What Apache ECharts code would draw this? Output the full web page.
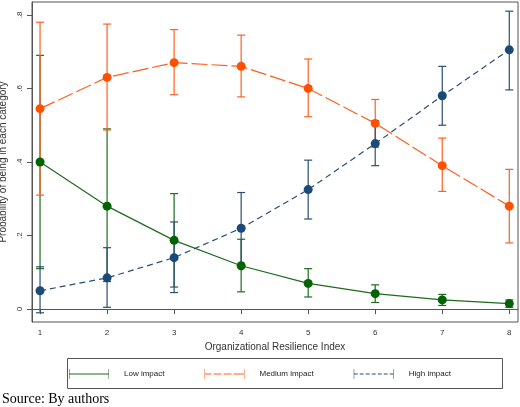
<!DOCTYPE html>
<html><head><meta charset="utf-8">
<script src="https://cdn.jsdelivr.net/npm/echarts@6/dist/echarts.min.js"></script>
<style>body{margin:0;background:#fff}#main{width:520px;height:407px}</style>
</head><body><div id="main"></div>
<script>
var xs=[1,2,3,4,5,6,7,8];
var lowVal=[0.40,0.28,0.187,0.118,0.07,0.042,0.025,0.015];
var lowLo=[0.11,0.075,0.06,0.047,0.033,0.018,0.01,0.005];
var lowHi=[0.69,0.49,0.314,0.19,0.11,0.066,0.04,0.025];
var medVal=[0.545,0.63,0.67,0.66,0.60,0.505,0.39,0.28];
var medLo=[0.31,0.487,0.583,0.577,0.523,0.44,0.32,0.18];
var medHi=[0.78,0.775,0.76,0.745,0.68,0.57,0.465,0.38];
var highVal=[0.05,0.085,0.14,0.22,0.325,0.45,0.58,0.705];
var highLo=[-0.01,0.005,0.045,0.12,0.245,0.39,0.50,0.596];
var highHi=[0.115,0.167,0.237,0.317,0.405,0.512,0.66,0.81];
var yTicks=[0,0.2,0.4,0.6,0.8];

var cLow='#1e6b1e',cMed='#ff5f1f',cHigh='#2a4e74';
var dLow='#006400',dMed='#ff5000',dHigh='#1a4a7a';

function pts(v){return xs.map(function(x,i){return [x,v[i]];});}
function bars(lo,hi){return xs.map(function(x,i){return [x,lo[i],hi[i]];});}
function errSeries(name,lo,hi,color){
  return {type:'custom',name:name,data:bars(lo,hi),z:1,
    renderItem:function(p,api){
      var a=api.coord([api.value(0),api.value(1)]),b=api.coord([api.value(0),api.value(2)]);
      var s={stroke:color,lineWidth:1.2};
      return {type:'group',children:[
        {type:'line',shape:{x1:a[0],y1:a[1],x2:b[0],y2:b[1]},style:s},
        {type:'line',shape:{x1:a[0]-4,y1:a[1],x2:a[0]+4,y2:a[1]},style:s},
        {type:'line',shape:{x1:b[0]-4,y1:b[1],x2:b[0]+4,y2:b[1]},style:s}]};
    }};
}
function lineSeries(name,v,color,dot,dash){
  return {type:'line',name:name,data:pts(v),symbol:'circle',symbolSize:9,z:3,
    itemStyle:{color:dot},lineStyle:{color:color,width:1.2,type:dash}};
}
var ch=echarts.init(document.getElementById('main'));
ch.setOption({
  animation:false,
  grid:{left:32,right:2,top:2,bottom:85,show:true,borderColor:'#555',borderWidth:1,outerBoundsMode:'none',containLabel:false},
  xAxis:{type:'value',min:0.88,max:8.13,
    name:'Organizational Resilience Index',nameLocation:'middle',nameGap:19,
    nameTextStyle:{fontFamily:'Liberation Sans',fontSize:10,color:'#333'},
    axisLine:{lineStyle:{color:'#555'}},splitLine:{show:false},
    axisTick:{customValues:xs,length:5,lineStyle:{color:'#555'}},
    axisLabel:{customValues:xs,fontFamily:'Liberation Sans',fontSize:8,color:'#333',margin:7}},
  yAxis:{type:'value',min:-0.035,max:0.835,
    name:'Probability of being in each category',nameLocation:'middle',nameGap:21,
    nameTextStyle:{fontFamily:'Liberation Sans',fontSize:10,color:'#333'},
    axisLine:{show:true,lineStyle:{color:'#555'}},splitLine:{show:false},
    axisTick:{show:true,customValues:yTicks,length:5,lineStyle:{color:'#555'}},
    axisLabel:{customValues:yTicks,rotate:90,fontFamily:'Liberation Sans',fontSize:8,color:'#333',margin:8,
      formatter:function(v){return v===0?'0':String(v).replace(/^0/,'');}}},
  legend:{top:364,left:'center',itemGap:40,itemWidth:60,itemHeight:10,
    textStyle:{fontFamily:'Liberation Sans',fontSize:8,color:'#222'},
    data:[
      {name:'Low impact',icon:'path://M0,0H1V20H0ZM0,9.2H80V10.8H0ZM79,0H80V20H79Z'},
      {name:'Medium impact',icon:'path://M0,0H1V20H0ZM0,9.2H14V10.8H0ZM18,9.2H34V10.8H18ZM38,9.2H54V10.8H38ZM58,9.2H80V10.8H58ZM79,0H80V20H79Z'},
      {name:'High impact',icon:'path://M0,0H1V20H0ZM0,9.2H8V10.8H0ZM12,9.2H20V10.8H12ZM24,9.2H32V10.8H24ZM36,9.2H44V10.8H36ZM48,9.2H56V10.8H48ZM60,9.2H68V10.8H60ZM72,9.2H80V10.8H72ZM79,0H80V20H79Z'}]},
  color:[cLow,cMed,cHigh],
  graphic:[
    {type:'rect',left:65,top:356,shape:{width:435,height:30},style:{fill:'none',stroke:'#555',lineWidth:1}},
    {type:'text',left:2,top:392,style:{text:'Source: By authors',font:'14px "Liberation Serif"',fill:'#000'}}],
  series:[
    errSeries('Low impact',lowLo,lowHi,cLow),
    errSeries('Medium impact',medLo,medHi,cMed),
    errSeries('High impact',highLo,highHi,cHigh),
    lineSeries('Low impact',lowVal,cLow,dLow,'solid'),
    lineSeries('Medium impact',medVal,cMed,dMed,[16,4]),
    lineSeries('High impact',highVal,cHigh,dHigh,[6,4])]
});
</script></body></html>
